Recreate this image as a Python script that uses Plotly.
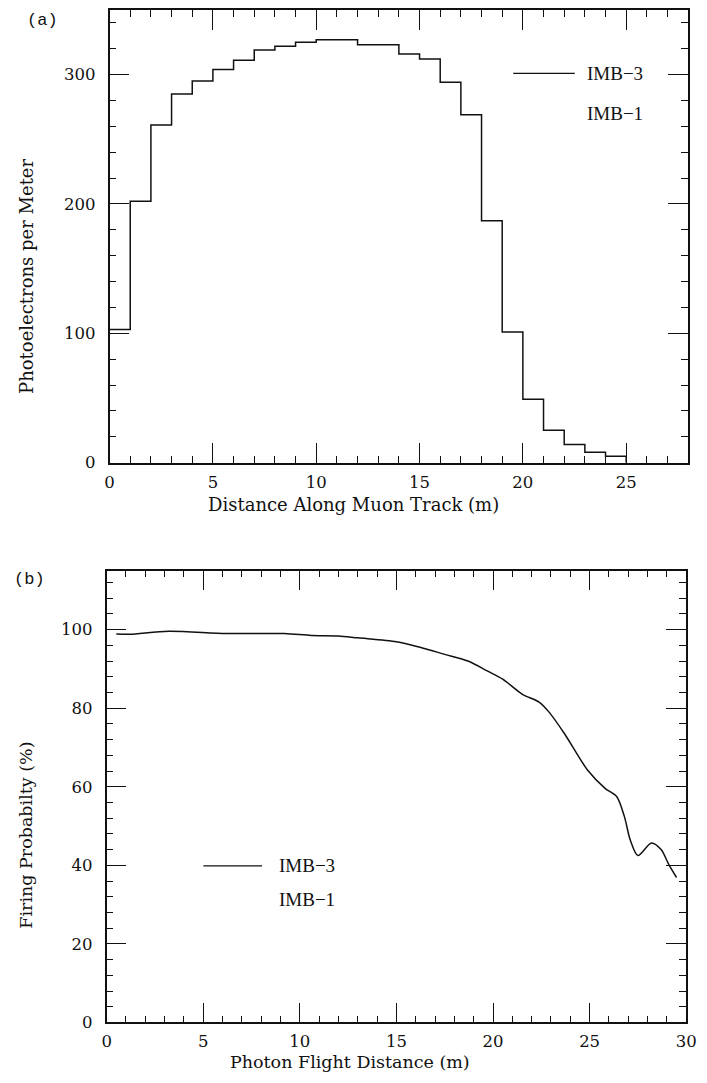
import plotly.graph_objects as go

# ---- Data: panel (a) histogram, IMB-3 photoelectrons per meter ----
bin_edges = [0, 1, 2, 3, 4, 5, 6, 7, 8, 9, 10, 11, 12, 13, 14, 15, 16, 17, 18, 19, 20, 21, 22, 23, 24, 25]
pe_per_meter = [103, 202, 261, 285, 295, 304, 311, 319, 322, 325, 327, 327, 323, 323,
                316, 312, 294, 269, 187, 101, 49, 25, 14, 8, 5]

# ---- Data: panel (b) firing probability vs photon flight distance ----
flight_dist = [0.5, 1.2, 3.2, 6.2, 9.2, 10.6, 12.0, 13.0, 15.0, 16.3, 17.5, 18.7, 19.7, 20.5,
               21.5, 22.4, 22.9, 23.7, 24.9, 25.8, 26.4, 26.8, 27.1, 27.5, 28.2, 28.7, 29.1, 29.5]
firing_prob = [98.9, 98.8, 99.6, 99.0, 99.0, 98.5, 98.4, 97.9, 96.9, 95.4, 93.7, 92.0, 89.5, 87.4,
               83.6, 81.5, 79.0, 73.5, 64.2, 59.6, 57.5, 52.4, 46.5, 42.5, 45.7, 44.0, 40.2, 36.9]

series_names = ["IMB−3", "IMB−1"]

W, H = 707, 1083
def px(x):
    return x / W
def py(y):
    return 1 - y / H

INK = "#111111"
TXT = "DejaVu Serif"
MONO = "Liberation Mono"
SERIF = "Liberation Serif"

fig = go.Figure()

hist_y = pe_per_meter + [0]
fig.add_trace(go.Scatter(x=bin_edges, y=hist_y, mode="lines", line=dict(shape="hv", color=INK, width=1.5),
                         xaxis="x", yaxis="y", showlegend=False, name=series_names[0]))
fig.add_trace(go.Scatter(x=flight_dist, y=firing_prob, mode="lines",
                         line=dict(shape="spline", smoothing=0.8, color=INK, width=1.5),
                         xaxis="x2", yaxis="y2", showlegend=False, name=series_names[0]))

def axis_common(**kw):
    d = dict(showline=True, linecolor=INK, linewidth=1.5, mirror="allticks", ticks="inside",
             ticklen=20, tickwidth=1.2, tickcolor=INK, showgrid=False, zeroline=False,
             ticklabeloverflow="allow",
             tickfont=dict(family=TXT, size=16.5, color=INK))
    d.update(kw)
    return d

fig.update_layout(
    width=W, height=H, margin=dict(l=0, r=0, t=0, b=0),
    paper_bgcolor="white", plot_bgcolor="white",
    xaxis=axis_common(domain=[px(107), px(699)], range=[0, 28], dtick=5, tick0=0,
                      minor=dict(ticks="inside", ticklen=7, dtick=1, tickcolor=INK, tickwidth=1),
                      anchor="y", ticklabelstandoff=4),
    yaxis=axis_common(domain=[py(467), py(10)], range=[0, 350], dtick=100, tick0=0,
                      minor=dict(ticks="inside", ticklen=7, dtick=20, tickcolor=INK, tickwidth=1),
                      anchor="x", ticklabelstandoff=9),
    xaxis2=axis_common(domain=[px(104), px(697)], range=[0, 30], dtick=5, tick0=0,
                       minor=dict(ticks="inside", ticklen=7, dtick=1, tickcolor=INK, tickwidth=1),
                       anchor="y2", ticklabelstandoff=3),
    yaxis2=axis_common(domain=[py(1032), py(576)], range=[0, 115], dtick=20, tick0=0,
                       minor=dict(ticks="inside", ticklen=7, dtick=4, tickcolor=INK, tickwidth=1),
                       anchor="x2", ticklabelstandoff=9),
)

ann = []
def text(x, y, s, size=17, family=TXT, xanchor="center", angle=0):
    ann.append(dict(x=px(x), y=py(y), xref="paper", yref="paper", text=s, showarrow=False,
                    xanchor=xanchor, yanchor="middle", textangle=angle,
                    font=dict(family=family, size=size, color=INK)))

text(38, 21, "(a)", size=17, family=MONO)
text(25, 585, "(b)", size=17, family=MONO)
text(357, 509, "Distance Along Muon Track (m)", size=18)
text(22, 279, "Photoelectrons per Meter", size=18, angle=-90)
text(353, 1072, "Photon Flight Distance (m)", size=17.5)
text(22, 843, "Firing Probabilty (%)", size=17.5, angle=-90)

# legends
text(593, 74, series_names[0], size=19, family=SERIF, xanchor="left")
text(593, 115, series_names[1], size=19, family=SERIF, xanchor="left")
text(278, 874, series_names[0], size=19, family=SERIF, xanchor="left")
text(278, 908, series_names[1], size=19, family=SERIF, xanchor="left")
fig.update_layout(annotations=ann)

fig.add_shape(type="line", xref="paper", yref="paper", x0=px(520), x1=px(583), y0=py(74), y1=py(74),
              line=dict(color=INK, width=1.3))
fig.add_shape(type="line", xref="paper", yref="paper", x0=px(203), x1=px(263), y0=py(874), y1=py(874),
              line=dict(color=INK, width=1.3))

fig.write_html("out.html")
